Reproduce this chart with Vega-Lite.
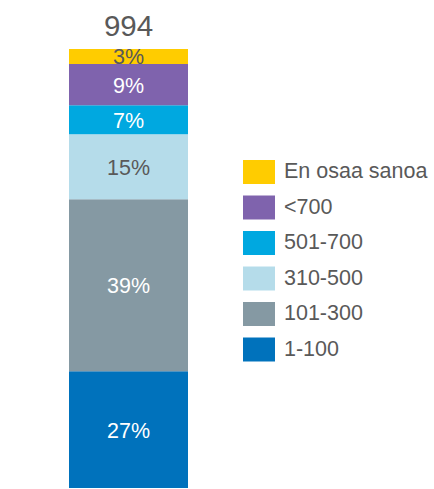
{
  "$schema": "https://vega.github.io/schema/vega-lite/v6.json",
  "autosize": "none",
  "width": 119,
  "height": 439,
  "padding": {"left": 69, "top": 49, "right": 246, "bottom": 1},
  "background": "white",
  "config": {"view": {"stroke": null}, "font": "Liberation Sans"},
  "data": {
    "values": [
      {"bar": "A", "cat": "1-100", "share": 0.266, "ord": 1},
      {"bar": "A", "cat": "101-300", "share": 0.392, "ord": 2},
      {"bar": "A", "cat": "310-500", "share": 0.148, "ord": 3},
      {"bar": "A", "cat": "501-700", "share": 0.066, "ord": 4},
      {"bar": "A", "cat": "<700", "share": 0.094, "ord": 5},
      {"bar": "A", "cat": "En osaa sanoa", "share": 0.034, "ord": 6}
    ]
  },
  "encoding": {
    "x": {"field": "bar", "type": "nominal", "axis": null, "scale": {"paddingInner": 0, "paddingOuter": 0}}
  },
  "layer": [
    {
      "mark": {"type": "bar", "width": {"band": 1}},
      "encoding": {
        "y": {"field": "share", "type": "quantitative", "stack": "zero", "axis": null, "scale": {"domain": [0, 1], "nice": false}},
        "order": {"field": "ord", "type": "quantitative", "sort": "ascending"},
        "color": {
          "field": "cat",
          "type": "nominal",
          "scale": {
            "domain": ["En osaa sanoa", "<700", "501-700", "310-500", "101-300", "1-100"],
            "range": ["#FFCC00", "#7F63AD", "#00A8E0", "#B5DCEA", "#8599A3", "#0072BC"]
          },
          "legend": {
            "title": null,
            "orient": "none",
            "legendX": 174,
            "legendY": 107,
            "symbolType": "M-1,-0.75L1,-0.75L1,0.75L-1,0.75Z",
            "symbolSize": 1024,
            "symbolStrokeWidth": 0,
            "symbolOpacity": 1,
            "labelFontSize": 21.5,
            "labelColor": "#595959",
            "labelOffset": 9,
            "rowPadding": 7.5,
            "padding": 0,
            "labelLimit": 300
          }
        }
      }
    },
    {
      "mark": {"type": "text", "fontSize": 21.5, "baseline": "middle", "align": "center", "dy": 2},
      "encoding": {
        "y": {"field": "share", "type": "quantitative", "stack": "zero", "bandPosition": 0.5},
        "order": {"field": "ord", "type": "quantitative", "sort": "ascending"},
        "text": {"field": "share", "type": "quantitative", "format": ".0%"},
        "color": {
          "condition": {"test": "datum.cat === 'En osaa sanoa' || datum.cat === '310-500'", "value": "#595959"},
          "value": "white"
        }
      }
    },
    {
      "transform": [{"aggregate": [{"op": "sum", "field": "share", "as": "total"}], "groupby": ["bar"]}],
      "mark": {"type": "text", "fontSize": 29.5, "color": "#595959", "baseline": "alphabetic", "dy": -13},
      "encoding": {
        "y": {"field": "total", "type": "quantitative"},
        "text": {"value": "994"}
      }
    }
  ]
}
